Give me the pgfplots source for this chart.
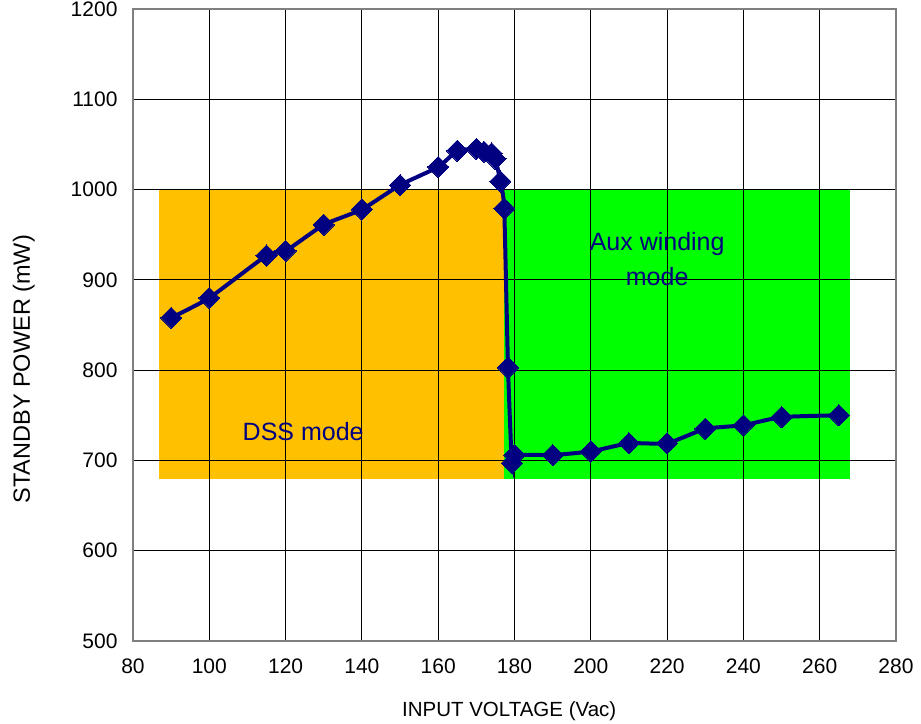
\documentclass[border=0pt]{standalone}
\usepackage{pgfplots}
\pgfplotsset{compat=1.18}
\usepackage{fontspec}
\setmainfont{Liberation Sans}
\definecolor{dssorange}{HTML}{FFC000}
\definecolor{auxgreen}{HTML}{00FF00}
\definecolor{navyline}{HTML}{000080}
\definecolor{framegray}{HTML}{7F7F7F}
\begin{document}
\begin{tikzpicture}
\begin{axis}[
  set layers,
  scale only axis, width=763pt, height=632pt,
  xmin=80, xmax=280, ymin=500, ymax=1200,
  xtick={80,100,...,280}, ytick={500,600,...,1200},
  grid=major, grid style={black, line width=1.1pt},
  axis line style={framegray, line width=2pt},
  major tick length=0pt,
  tick label style={font=\fontsize{21}{25}\selectfont},
  /pgf/number format/assume math mode=true,
  /pgf/number format/1000 sep={},
  xticklabel style={yshift=-14pt},
  yticklabel style={xshift=-12pt},
  xlabel={INPUT VOLTAGE (Vac)},
  ylabel={STANDBY POWER (mW)},
  xlabel style={font=\fontsize{20.5}{24}\selectfont, at={(axis description cs:0.493,-0.111)}, anchor=center},
  ylabel style={font=\fontsize{23.5}{28}\selectfont, at={(axis description cs:-0.143,0.43)}, anchor=center},
  clip=false,
]
\addplot[on layer=axis background, fill=dssorange, draw=none] coordinates {(86.8,679) (177.3,679) (177.3,1000) (86.8,1000)} -- cycle;
\addplot[on layer=axis background, fill=auxgreen, draw=none] coordinates {(177.3,679) (268,679) (268,1000) (177.3,1000)} -- cycle;
\addplot[navyline, line width=4pt, smooth, tension=0.3, mark=square*, mark size=7.5pt, mark options={rotate=45, solid, fill=navyline, draw=navyline, line width=0pt}] coordinates {
(90,858) (100,880) (115,927) (120,932) (130,961) (140,978) (150,1005) (160,1025)
(165,1043) (170,1045) (172,1042) (174,1040) (175,1034) (176.3,1009) (177.3,979)
(178.3,803) (179.3,697) (180,706) (190,706) (200,710) (210,719) (220,719)
(230,735) (240,739) (250,748) (265,750)};
\node[navyline, font=\fontsize{25}{35}\selectfont, align=center] at (axis cs:217.4,923) {Aux winding\\mode};
\node[navyline, font=\fontsize{25}{30}\selectfont] at (axis cs:124.6,731.8) {DSS mode};
\end{axis}
\pgfresetboundingbox
\path[use as bounding box] (-133pt,-82pt) rectangle (788pt,641pt);
\end{tikzpicture}
\end{document}
